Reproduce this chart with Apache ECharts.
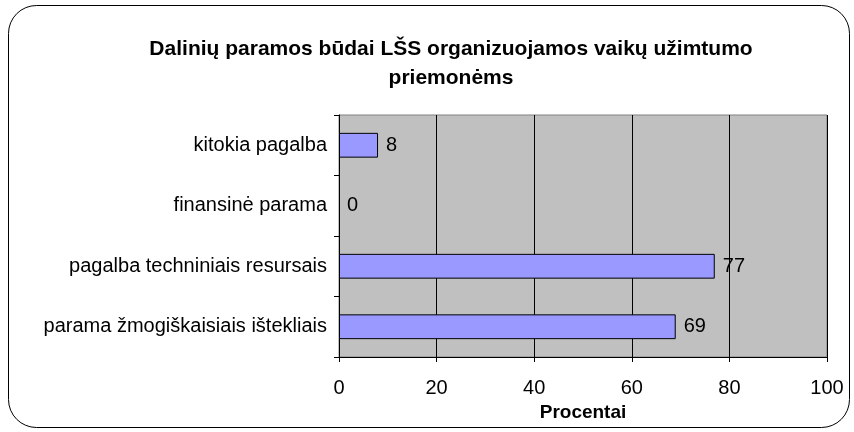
<!DOCTYPE html>
<html>
<head>
<meta charset="utf-8">
<script src="https://cdn.jsdelivr.net/npm/echarts@6/dist/echarts.min.js"></script>
<style>
  html, body { margin: 0; padding: 0; background: #fff; }
  #chart { width: 854px; height: 432px; }
</style>
</head>
<body>
<div id="chart"></div>
<script>
// data (bottom to top)
const categories = ['parama žmogiškaisiais ištekliais', 'pagalba techniniais resursais', 'finansinė parama', 'kitokia pagalba'];
const values = [69, 77, 0, 8];
const titleText = 'Dalinių paramos būdai LŠS organizuojamos vaikų užimtumo\npriemonėms';
const axisName = 'Procentai';

const font = '"Liberation Sans", Arial, sans-serif';
const chart = echarts.init(document.getElementById('chart'));

// zero-length bar has no visible outline in the original
const barData = values.map(v => v === 0 ? { value: v, itemStyle: { borderWidth: 0 } } : v);

const option = {
  animation: false,
  backgroundColor: '#fff',
  title: {
    text: titleText,
    left: 446,
    textAlign: 'center',
    top: 30,
    textStyle: {
      fontFamily: font,
      fontSize: 21,
      fontWeight: 'bold',
      color: '#000',
      lineHeight: 29
    }
  },
  graphic: [{
    type: 'rect',
    shape: { x: 8.5, y: 5.5, width: 841, height: 422, r: 28 },
    style: { fill: 'none', stroke: '#000', lineWidth: 1 },
    silent: true
  }],
  grid: {
    left: 339,
    right: 27,
    top: 115,
    bottom: 75,
    show: true,
    backgroundColor: '#c0c0c0',
    borderColor: '#808080',
    borderWidth: 1
  },
  xAxis: {
    type: 'value',
    min: 0,
    max: 100,
    interval: 20,
    name: axisName,
    nameLocation: 'middle',
    nameGap: 44,
    nameTextStyle: { fontFamily: font, fontSize: 19, fontWeight: 'bold', color: '#000' },
    axisLine: { show: true, lineStyle: { color: '#000', width: 1 } },
    axisTick: { show: true, inside: false, length: 5, lineStyle: { color: '#000' } },
    axisLabel: { fontFamily: font, fontSize: 20, color: '#000', margin: 21 },
    splitLine: { show: true, lineStyle: { color: '#000', width: 1 } }
  },
  yAxis: {
    type: 'category',
    data: categories,
    axisLine: { show: true, lineStyle: { color: '#000', width: 1 } },
    axisTick: { show: true, inside: false, length: 5, lineStyle: { color: '#000' } },
    axisLabel: { fontFamily: font, fontSize: 20, color: '#000', margin: 12 },
    splitLine: { show: false }
  },
  series: [{
    type: 'bar',
    data: barData,
    barWidth: '41%',
    itemStyle: { color: '#9999ff', borderColor: '#000', borderWidth: 1 },
    label: {
      show: true,
      position: 'right',
      distance: 8,
      fontFamily: font,
      fontSize: 20,
      color: '#000'
    }
  }]
};

chart.setOption(option);
</script>
</body>
</html>
